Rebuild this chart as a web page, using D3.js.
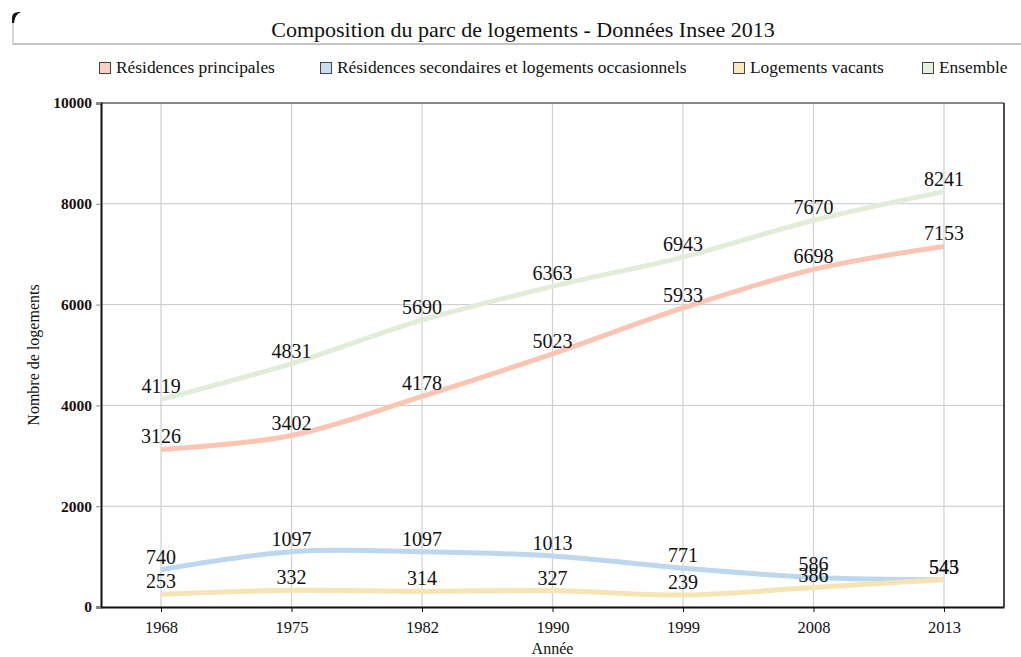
<!DOCTYPE html>
<html>
<head>
<meta charset="utf-8">
<script src="https://cdn.jsdelivr.net/npm/d3@7"></script>
<style>
  body { margin: 0; background: #fff; }
  svg text { font-family: "Liberation Serif", "Times New Roman", serif; }
</style>
</head>
<body>
<div id="chart"></div>
<script>
// data
const years = ['1968', '1975', '1982', '1990', '1999', '2008', '2013'];
const principales = [3126, 3402, 4178, 5023, 5933, 6698, 7153];
const secondaires = [740, 1097, 1097, 1013, 771, 586, 543];
const vacants = [253, 332, 314, 327, 239, 386, 545];
const ensemble = [4119, 4831, 5690, 6363, 6943, 7670, 8241];
const yTicks = [0, 2000, 4000, 6000, 8000, 10000];

const series = [
  { name: 'Résidences principales', values: principales, line: '#fbc4b3', box: '#fcd0c3' },
  { name: 'Résidences secondaires et logements occasionnels', values: secondaires, line: '#bcd7ee', box: '#c8def1' },
  { name: 'Logements vacants', values: vacants, line: '#f6e4b4', box: '#f8e9c0' },
  { name: 'Ensemble', values: ensemble, line: '#e1edd9', box: '#e6f0df' }
];

const serif = '"Liberation Serif", "Times New Roman", serif';
const width = 1021, height = 657;
const margin = { top: 103, right: 17, bottom: 50, left: 101 };
const innerW = width - margin.left - margin.right;
const innerH = height - margin.top - margin.bottom;

const svg = d3.select('#chart').append('svg')
  .attr('width', width)
  .attr('height', height);

// title strip
svg.append('rect')
  .attr('x', 12).attr('y', 12)
  .attr('width', width - 12).attr('height', 31)
  .attr('fill', '#fff');
svg.append('line')
  .attr('x1', 12).attr('x2', width).attr('y1', 44).attr('y2', 44)
  .attr('stroke', '#c4c4c4').attr('stroke-width', 2);
svg.append('line')
  .attr('x1', 13).attr('x2', 13).attr('y1', 20).attr('y2', 44)
  .attr('stroke', '#d8d8d8').attr('stroke-width', 2);
svg.append('path')
  .attr('d', 'M12,23 L12,18 Q12,12 19,12 L21,12 Q15,14 14,23 Z')
  .attr('fill', '#111');

svg.append('text')
  .attr('x', 523).attr('y', 37)
  .attr('text-anchor', 'middle')
  .style('font-family', serif)
  .style('font-size', '22px')
  .style('fill', '#111')
  .text('Composition du parc de logements - Données Insee 2013');

// legend
const legendX = [99, 320, 733, 922];
const legend = svg.append('g').attr('transform', 'translate(0,62)');
const items = legend.selectAll('.legend-item')
  .data(series)
  .enter()
  .append('g')
  .attr('class', 'legend-item')
  .attr('transform', (d, i) => `translate(${legendX[i]},0)`);

items.append('rect')
  .attr('x', 0.5).attr('y', 0.5)
  .attr('width', 11).attr('height', 11)
  .attr('fill', d => d.box)
  .attr('stroke', '#444')
  .attr('stroke-width', 1);

items.append('text')
  .attr('x', 17)
  .attr('y', 11)
  .style('font-family', serif)
  .style('font-size', '17.4px')
  .style('fill', '#111')
  .text(d => d.name);

// plot
const g = svg.append('g')
  .attr('transform', `translate(${margin.left},${margin.top})`);

const x = d3.scalePoint()
  .domain(years)
  .range([0, innerW])
  .padding(0.46);

const y = d3.scaleLinear()
  .domain([0, 10000])
  .range([innerH, 0]);

// grid
g.selectAll('.hgrid')
  .data(yTicks.slice(1, -1))
  .enter().append('line')
  .attr('x1', 0).attr('x2', innerW)
  .attr('y1', d => y(d)).attr('y2', d => y(d))
  .attr('stroke', '#c9c9cf').attr('stroke-width', 1);

g.selectAll('.vgrid')
  .data(years)
  .enter().append('line')
  .attr('x1', d => x(d)).attr('x2', d => x(d))
  .attr('y1', 0).attr('y2', innerH)
  .attr('stroke', '#cfcfd4').attr('stroke-width', 1.2);

// frame
g.append('line')
  .attr('x1', 0).attr('x2', innerW).attr('y1', 0).attr('y2', 0)
  .attr('stroke', '#888').attr('stroke-width', 2);
g.append('line')
  .attr('x1', innerW).attr('x2', innerW).attr('y1', 0).attr('y2', innerH)
  .attr('stroke', '#111').attr('stroke-width', 1.5);

// axes
const yAxis = g.append('g')
  .call(d3.axisLeft(y).tickValues(yTicks).tickFormat(d3.format('d')).tickSize(5).tickPadding(4));
yAxis.select('.domain').attr('stroke', '#111').attr('stroke-width', 2);
yAxis.selectAll('.tick line').attr('stroke', '#888');
yAxis.selectAll('text')
  .style('font-family', serif)
  .style('font-size', '15.5px')
  .style('font-weight', 'bold')
  .style('fill', '#1a1010');

const xAxis = g.append('g')
  .attr('transform', `translate(0,${innerH})`)
  .call(d3.axisBottom(x).tickSize(5).tickSizeOuter(0).tickPadding(9));
xAxis.select('.domain').attr('stroke', '#111').attr('stroke-width', 2);
xAxis.selectAll('.tick line').attr('stroke', '#111');
xAxis.selectAll('text')
  .style('font-family', serif)
  .style('font-size', '16.5px')
  .style('fill', '#111');

// axis titles
svg.append('text')
  .attr('transform', `translate(39,${margin.top + innerH / 2}) rotate(-90)`)
  .attr('text-anchor', 'middle')
  .style('font-family', serif)
  .style('font-size', '16px')
  .style('fill', '#111')
  .text('Nombre de logements');

svg.append('text')
  .attr('x', margin.left + innerW / 2)
  .attr('y', 654)
  .attr('text-anchor', 'middle')
  .style('font-family', serif)
  .style('font-size', '16px')
  .style('fill', '#111')
  .text('Année');

// lines
const line = d3.line()
  .x((d, i) => x(years[i]))
  .y(d => y(d))
  .curve(d3.curveCardinal);

g.selectAll('.series')
  .data(series)
  .enter().append('path')
  .attr('class', 'series')
  .attr('fill', 'none')
  .attr('stroke', d => d.line)
  .attr('stroke-width', 5)
  .attr('d', d => line(d.values));

// value labels
series.forEach(s => {
  g.selectAll(null)
    .data(s.values)
    .enter().append('text')
    .attr('x', (d, i) => x(years[i]))
    .attr('y', d => y(d) - 6)
    .attr('text-anchor', 'middle')
    .style('font-family', serif)
    .style('font-size', '20px')
    .style('fill', '#111')
    .text(d => d);
});
</script>
</body>
</html>
